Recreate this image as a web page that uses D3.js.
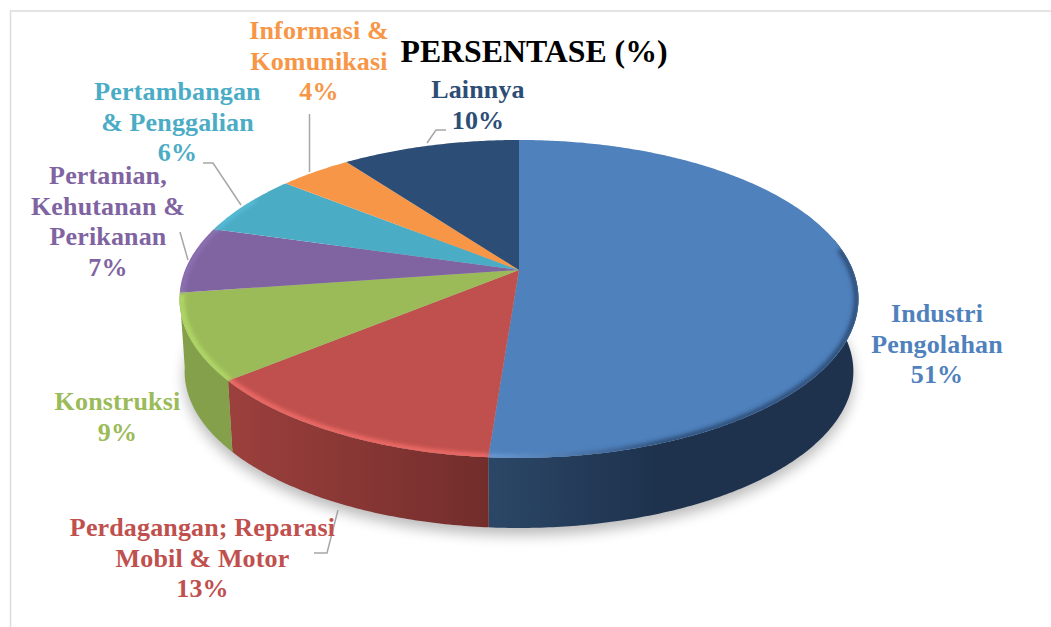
<!DOCTYPE html>
<html>
<head>
<meta charset="utf-8">
<script src="https://cdn.jsdelivr.net/npm/d3@7/dist/d3.min.js"></script>
<style>
html, body { margin:0; padding:0; background:#fff; }
svg { display:block; }
text { font-family:"Liberation Serif", serif; font-weight:bold; text-anchor:middle; }
</style>
</head>
<body>
<svg id="chart" width="1051" height="627"></svg>
<script>
const categories = ["Industri Pengolahan", "Perdagangan; Reparasi Mobil & Motor", "Konstruksi",
    "Pertanian, Kehutanan & Perikanan", "Pertambangan & Penggalian", "Informasi & Komunikasi", "Lainnya"];
const values = [51.2, 12.8, 8.7, 6.8, 6.3, 4.1, 10.1];

const topColors  = ["#4f81bd", "#c0504d", "#9bbb59", "#8064a2", "#4bacc6", "#f79646", "#2c4d75"];
const rimColors  = ["#6f9fdb", "#f56e6b", "#b3dc67", "#9478bd", "#5cc4de", "#ffb066", "#3a6090"];
const sideLeft   = ["#2b4767", "#9c403d", "#84a04b", "#6d5589", "#3f92a8", "#d17f3b", "#243f60"];
const sideRight  = ["#1e324d", "#722d2b", "#84a04b", "#6d5589", "#3f92a8", "#d17f3b", "#243f60"];
const textColors = ["#4f81bd", "#c0504d", "#9bbb59", "#8064a2", "#4bacc6", "#f79646", "#2c4d75"];

const labelLines = [
    ["Industri", "Pengolahan"],
    ["Perdagangan; Reparasi", "Mobil & Motor"],
    ["Konstruksi"],
    ["Pertanian,", "Kehutanan &", "Perikanan"],
    ["Pertambangan", "& Penggalian"],
    ["Informasi &", "Komunikasi"],
    ["Lainnya"],
];
const labelPos = [[937, 322], [202.5, 536], [117.5, 410], [108, 184], [177.5, 100], [319, 39], [478, 98]];
const leaders = [
    null,
    [[338, 510], [327, 553], [314, 553]],
    null,
    [[188, 260], [180, 232]],
    [[241, 205], [213, 163], [203, 163]],
    [[309.5, 172], [309.5, 114]],
    [[427, 143], [436, 130], [446, 130]],
];

const width = 1051, height = 627;
const svg = d3.select("#chart");
const defs = svg.append("defs");

defs.append("filter").attr("id", "shadow").attr("x", "-10%").attr("y", "-10%").attr("width", "120%").attr("height", "130%")
    .append("feGaussianBlur").attr("stdDeviation", 7);
defs.append("filter").attr("id", "soft").attr("x", "-10%").attr("y", "-10%").attr("width", "120%").attr("height", "120%")
    .append("feGaussianBlur").attr("stdDeviation", 2.2);

// perspective of the disc: apex sits above the centre of the ellipse
const cx = 519, cy = 270, A = 333.8, B = 153.7, k = 0.182;
const depth = 72, baseScale = 0.985;

function rimPoint(angle, s = 1, dy = 0) {
    const u = Math.sin(angle), v = -Math.cos(angle), w = 1 - k * v;
    return [cx + s * A * u / w, cy + dy + s * B * v / w + (s < 1 ? (1 - s) * 60 : 0)];
}
function arcPoints(a0, a1, s, dy) {
    const n = Math.max(2, Math.ceil(Math.abs(a1 - a0) / 0.01));
    return d3.range(n + 1).map(i => rimPoint(a0 + (a1 - a0) * i / n, s, dy));
}

const line = d3.line();
const arcs = d3.pie().sort(null).value(d => d)(values);
const frontFrom = 78 * Math.PI / 180, frontTo = 261 * Math.PI / 180;

// frame
svg.append("path").attr("d", "M10.5,627V11H1051").attr("fill", "none").attr("stroke", "#dcdcdc").attr("stroke-width", 1.5);

// shadow under the pie
svg.append("path")
    .attr("d", line(arcPoints(0, 2 * Math.PI, baseScale, depth + 7)) + "Z")
    .attr("fill", "#000").attr("opacity", 0.27).attr("filter", "url(#shadow)");

// side walls
arcs.forEach((d, i) => {
    const a0 = Math.max(d.startAngle, frontFrom), a1 = Math.min(d.endAngle, frontTo);
    if (a1 <= a0) return;
    const upper = arcPoints(a0, a1, 1, 0), lower = arcPoints(a0, a1, baseScale, depth);
    const xs = upper.concat(lower).map(p => p[0]);
    const gradId = "side" + i;
    const grad = defs.append("linearGradient").attr("id", gradId).attr("gradientUnits", "userSpaceOnUse")
        .attr("x1", d3.min(xs)).attr("x2", i === 0 ? d3.min(xs) + 170 : d3.max(xs)).attr("y1", 0).attr("y2", 0);
    grad.append("stop").attr("offset", 0).attr("stop-color", sideLeft[i]);
    grad.append("stop").attr("offset", 1).attr("stop-color", sideRight[i]);
    svg.append("path").attr("d", line(upper.concat(lower.reverse())) + "Z").attr("fill", `url(#${gradId})`);
});

// top face
const topGroup = svg.append("g");
defs.append("clipPath").attr("id", "topClip").append("path").attr("d", line(arcPoints(0, 2 * Math.PI, 1, 0)) + "Z");

arcs.forEach((d, i) => {
    const pts = [[cx, cy]].concat(arcPoints(d.startAngle, d.endAngle, 1, 0));
    topGroup.append("path").attr("d", line(pts) + "Z").attr("fill", topColors[i]);
});

// bevel along the front of the rim
const bevel = svg.append("g").attr("clip-path", "url(#topClip)");
arcs.forEach((d, i) => {
    const a0 = Math.max(d.startAngle, 82 * Math.PI / 180), a1 = Math.min(d.endAngle, 300 * Math.PI / 180);
    if (a1 <= a0) return;
    const pts = arcPoints(a0, a1, 0.994, 0);
    if (i === 0) {
        const grad = defs.append("linearGradient").attr("id", "bevel0").attr("gradientUnits", "userSpaceOnUse")
            .attr("x1", 488).attr("x2", 660).attr("y1", 0).attr("y2", 0);
        grad.append("stop").attr("offset", 0).attr("stop-color", rimColors[0]);
        grad.append("stop").attr("offset", 1).attr("stop-color", "#2a4a72");
        bevel.append("path").attr("d", line(pts)).attr("fill", "none").attr("stroke", "url(#bevel0)")
            .attr("stroke-width", 5).attr("filter", "url(#soft)");
    } else {
        bevel.append("path").attr("d", line(pts)).attr("fill", "none").attr("stroke", rimColors[i])
            .attr("stroke-width", i === 1 || i === 2 ? 5 : 3).attr("filter", "url(#soft)");
    }
});

// leader lines
leaders.forEach(pts => {
    if (!pts) return;
    svg.append("path").attr("d", line(pts)).attr("fill", "none").attr("stroke", "#a6a6a6").attr("stroke-width", 1.5);
});

// title
svg.append("text").attr("x", 534).attr("y", 62).attr("font-size", 31.8).attr("fill", "#000").text("PERSENTASE (%)");

// labels
const lineGap = 30.6;
labelLines.forEach((lines, i) => {
    const t = svg.append("text").attr("font-size", 26).attr("letter-spacing", 0.15).attr("fill", textColors[i]);
    lines.concat([Math.round(values[i]) + "%"]).forEach((s, j) => {
        t.append("tspan").attr("x", labelPos[i][0]).attr("y", labelPos[i][1] + j * lineGap).text(s);
    });
});
</script>
</body>
</html>
